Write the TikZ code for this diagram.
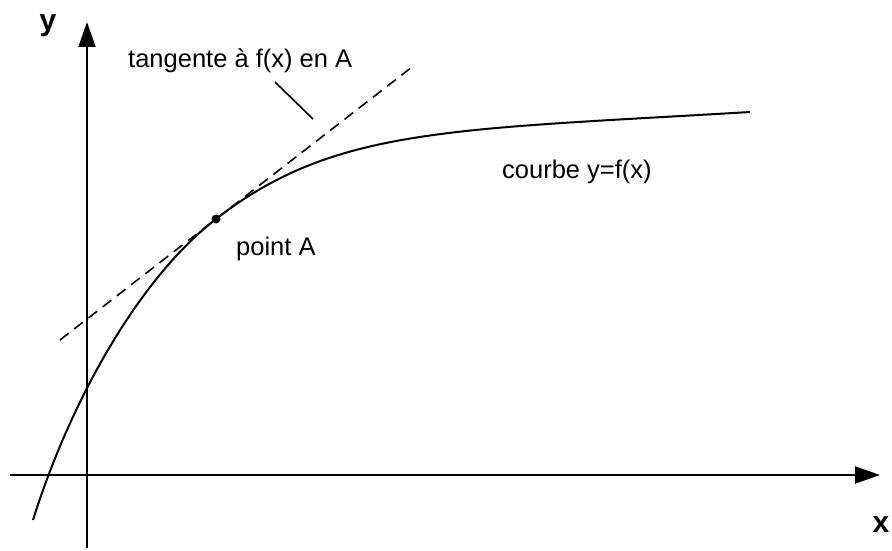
\documentclass[tikz,border=0pt]{standalone}
\usepackage{fontspec}
\setmainfont{Liberation Sans}
\usetikzlibrary{arrows.meta}
\tikzset{
  axis/.style={line width=2pt,-{Triangle[length=25pt,width=17pt]}},
  curve/.style={line width=2pt},
  tang/.style={line width=1.6pt,dash pattern=on 11pt off 7pt},
  lbl/.style={font=\fontsize{25.5}{28}\selectfont,inner sep=0pt},
  axlbl/.style={font=\fontsize{30}{32}\selectfont\bfseries,inner sep=0pt},
}
\begin{document}
\begin{tikzpicture}[x=1pt,y=-1pt]
\useasboundingbox (0,0) rectangle (892,551);
\coordinate (yb) at (87,548);
\coordinate (yt) at (87,22);
\coordinate (xl) at (10,475);
\coordinate (xr) at (880,475);
\draw[axis] (yb) -- (yt);
\draw[axis] (xl) -- (xr);
\node[axlbl,anchor=base] (ylab) at (48,31) {y};
\node[axlbl,anchor=base] (xlab) at (881,532) {x};
\coordinate (c0) at (33,520);
\coordinate (cA) at (216,219);
\coordinate (c1) at (750,112);
\draw[curve] (c0) .. controls (69,405) and (137,280) .. (cA)
  .. controls (334.5,127) and (450,130) .. (c1);
\coordinate (t1) at (60,340);
\coordinate (t2) at (412,67);
\draw[tang] (t1) -- (t2);
\node[circle,fill,inner sep=0pt,minimum size=9pt] (A) at (cA) {};
\node[lbl,anchor=base west] (tl) at (128,68) {tangente à f(x) en A};
\coordinate (l1) at (275,82);
\coordinate (l2) at (313,119);
\draw[line width=1.6pt] (l1) -- (l2);
\node[lbl,anchor=base west] (pA) at (236,255) {point A};
\node[lbl,anchor=base west] (cb) at (502,178) {courbe y=f(x)};
\end{tikzpicture}
\end{document}
